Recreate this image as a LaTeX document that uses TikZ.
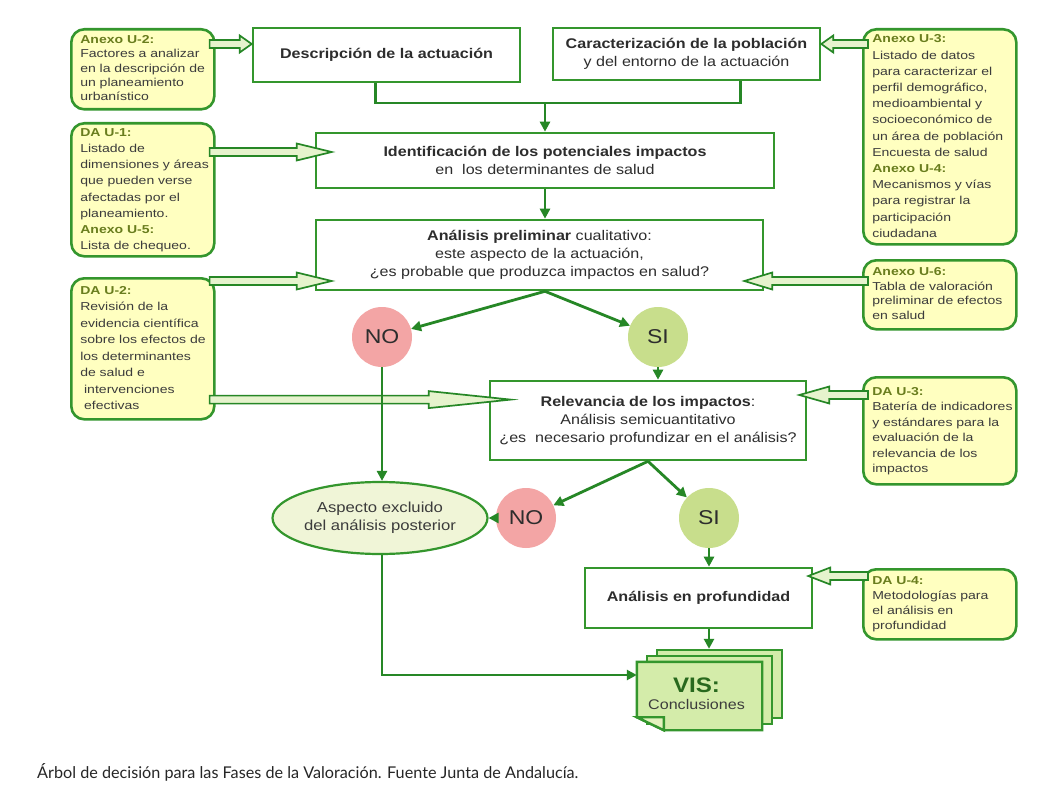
\documentclass[tikz,border=0pt]{standalone}
\usepackage{fontspec}
\setmainfont{Liberation Sans}
\newfontfamily\dgmfont[FakeStretch=1.15]{Liberation Sans}
\newfontfamily\notefont[FakeStretch=1.22]{Liberation Sans}
\newfontfamily\capfont{Lato}
\usetikzlibrary{arrows.meta,calc,shapes.geometric}
\definecolor{gline}{RGB}{38,135,38}
\definecolor{gbox}{RGB}{52,150,45}
\definecolor{yfill}{RGB}{255,255,192}
\definecolor{hfill}{RGB}{230,243,205}
\definecolor{lab}{RGB}{105,125,30}
\definecolor{tgray}{RGB}{45,45,45}
\definecolor{ngray}{RGB}{60,60,60}
\definecolor{nofill}{RGB}{243,165,165}
\definecolor{sifill}{RGB}{200,222,140}
\definecolor{aspfill}{RGB}{240,245,215}
\definecolor{visfill}{RGB}{212,236,170}
\definecolor{foldfill}{RGB}{228,242,190}
\definecolor{visgreen}{RGB}{40,105,30}
\newcommand\mf{\dgmfont\fontsize{14}{18}\selectfont}
\newcommand\nf[1]{\notefont\fontsize{11.5}{#1}\selectfont}
\newcommand\lb[1]{\textcolor{lab}{\textbf{#1}}}
\newcommand\tl[1]{\begin{tabular}{@{}l@{}}#1\end{tabular}}
\tikzset{
 mbox/.style={draw=gbox, fill=white, line width=2.6pt, align=center, font=\mf, text=tgray, inner sep=0pt},
 ybox/.style n args={3}{draw=gbox, fill=yfill, line width=2.6pt, rounded corners=13pt, text width=#1, minimum height=#2, inner xsep=9pt, inner ysep=0pt, align=left, font=\nf{#3}, text=ngray, anchor=north west},
 conn/.style={draw=gline, line width=2.8pt, -{Triangle[length=10pt,width=10pt]}},
 plain/.style={draw=gline, line width=2.8pt},
 hollow/.style={draw=gline, line width=1.7pt, fill=hfill, line join=miter, to path={let \p1=(\tikztostart), \p2=(\tikztotarget), \n1={\x2-#1*sign(\x2-\x1)} in (\x1,\y1+4pt) -- (\n1*1pt,\y1+4pt) -- (\n1*1pt,\y1+8.5pt) -- (\x2,\y1) -- (\n1*1pt,\y1-8.5pt) -- (\n1*1pt,\y1-4pt) -- (\x1,\y1-4pt) -- cycle}},
 circ/.style={circle, minimum size=60pt, inner sep=0pt, font=\dgmfont\fontsize{20}{24}\selectfont, text=tgray},
 vispage/.style={draw=gbox, fill=visfill, line width=2.4pt, line join=miter},
}
\begin{document}
\begin{tikzpicture}[x=1pt,y=-1pt]
\fill[white] (0,0) rectangle (1061,789);
\useasboundingbox (0,0) rectangle (1061,789);

% yellow note boxes
\node[ybox={125pt}{80pt}{14.3}] (u2) at (70,28) {\tl{\lb{Anexo U-2:}\\Factores a analizar\\en la descripción de\\un planeamiento\\urbanístico}};
\node[ybox={135pt}{215pt}{16.2}] (u3) at (862,28) {\tl{\lb{Anexo U-3:}\\Listado de datos\\para caracterizar el\\perfil demográfico,\\medioambiental y\\socioeconómico de\\un área de población\\Encuesta de salud\\\lb{Anexo U-4:}\\Mecanismos y vías\\para registrar la\\participación\\ciudadana}};
\node[ybox={125pt}{133pt}{16.2}] (da1) at (70,122) {\tl{\lb{DA U-1:}\\Listado de\\dimensiones y áreas\\que pueden verse\\afectadas por el\\planeamiento.\\\lb{Anexo U-5:}\\Lista de chequeo.}};
\node[ybox={135pt}{69pt}{14.5}] (u6) at (862,259) {\tl{\lb{Anexo U-6:}\\Tabla de valoración\\preliminar de efectos\\en salud}};
\node[ybox={125pt}{141pt}{16.5}] (da2) at (70,277) {\tl{\lb{DA U-2:}\\Revisión de la\\evidencia científica\\sobre los efectos de\\los determinantes\\de salud e\\\ intervenciones\\\ efectivas}};
\node[ybox={135pt}{107pt}{15.5}] (da3) at (862,376) {\tl{\lb{DA U-3:}\\Batería de indicadores\\y estándares para la\\evaluación de la\\relevancia de los\\impactos}};
\node[ybox={135pt}{70pt}{15}] (da4) at (862,568) {\tl{\lb{DA U-4:}\\Metodologías para\\el análisis en\\profundidad}};

% main boxes
\node[mbox, minimum width=267pt, minimum height=54pt] (desc) at (386.5,55) {\textbf{Descripción de la actuación}};
\node[mbox, minimum width=267pt, minimum height=52pt] (car) at (686.5,54) {\textbf{Caracterización de la población}\\y del entorno de la actuación};
\node[mbox, minimum width=458pt, minimum height=55pt] (ident) at (545,160.5) {\textbf{Identificación de los potenciales impactos}\\en\ \ los determinantes de salud};
\node[mbox, minimum width=447pt, minimum height=70pt] (prel) at (539.5,255) {\textbf{Análisis preliminar} cualitativo:\\este aspecto de la actuación,\\¿es probable que produzca impactos en salud?};
\node[mbox, minimum width=316pt, minimum height=79pt] (relev) at (648,420.5) {\textbf{Relevancia de los impactos}:\\Análisis semicuantitativo\\¿es\ \ necesario profundizar en el análisis?};
\node[mbox, minimum width=227pt, minimum height=60pt] (prof) at (698.5,598) {\textbf{Análisis en profundidad}};

% decisions
\node[circ, fill=nofill] (no1) at (382,337) {NO};
\node[circ, fill=sifill] (si1) at (658,337) {SI};
\node[circ, fill=nofill] (no2) at (526,518) {NO};
\node[circ, fill=sifill] (si2) at (709,518) {SI};
\node[ellipse, draw=gbox, fill=aspfill, line width=2.2pt, minimum width=186pt, minimum height=72pt, inner sep=0pt, align=center, font=\dgmfont\fontsize{14.5}{18}\selectfont, text=ngray] (asp) at (380,518) {Aspecto excluido\\del análisis posterior};

% VIS stack
\node[vispage, minimum width=125pt, minimum height=68pt] (vis3) at (719.5,684) {};
\node[vispage, minimum width=125pt, minimum height=68pt] (vis2) at (709.5,690) {};
\node[minimum width=125pt, minimum height=68pt, inner sep=0pt] (vis) at (699.5,696) {};
\draw[vispage] (vis.north west) -- (vis.north east) -- (vis.south east) -- ([shift={(27,0)}]vis.south west) -- ([shift={(0,-13)}]vis.south west) -- cycle;
\draw[vispage, fill=foldfill] ([shift={(0,-13)}]vis.south west) -- ([shift={(27,-13)}]vis.south west) -- ([shift={(27,0)}]vis.south west) -- cycle;
\node[align=center, inner sep=0pt, text=ngray] (vistxt) at ([shift={(-3,-2)}]vis.center) {\textcolor{visgreen}{\dgmfont\fontsize{21}{22}\selectfont\textbf{VIS:}}\\[5pt]{\mf Conclusiones}};

% hollow arrows
\path[hollow=12] ([shift={(-6,16)}]u2.north east) to (desc.west);
\path[hollow=12] ([shift={(6,16)}]u3.north west) to (car.east);
\path[hollow=35] ([shift={(-6,30)}]da1.north east) to ([shift={(17,0)}]ident.west);
\path[hollow=35] ([shift={(-6,4)}]da2.north east) to ([shift={(17,0)}]prel.west);
\path[hollow=28] ([shift={(6,22)}]u6.north west) to ([shift={(-20,0)}]prel.east);
\path[hollow=82] ([shift={(-6,-21)}]da2.south east) to ([shift={(22,0)}]relev.west);
\path[hollow=30] ([shift={(6,19)}]da3.north west) to ([shift={(-8,0)}]relev.east);
\path[hollow=22] ([shift={(6,8)}]da4.north west) to ([shift={(-5,0)}]prof.east);

% connectors
\coordinate (j1) at (545,103);
\draw[plain] ([shift={(-11,0)}]desc.south) |- (j1) -| ([shift={(54,0)}]car.south);
\draw[conn] (j1) -- (ident.north);
\draw[conn] (ident.south) -- (ident.south |- prel.north);
\coordinate (p1) at (ident.south |- prel.south);
\draw[conn] (p1) -- (no1);
\draw[conn] (p1) -- (si1);
\draw[conn] (no1.south) -- (no1.south |- asp.north);
\draw[conn] (si1.south) -- (si1.south |- relev.north);
\draw[conn] (relev.south) -- (no2);
\draw[conn] (relev.south) -- (si2);
\draw[conn] (no2.west) -- (asp.east);
\draw[conn] (si2.south) -- (si2.south |- prof.north);
\draw[conn] (si2.south |- prof.south) -- (si2.south |- vis3.north);
\draw[conn] (no1.south |- asp.south) |- ([shift={(0,-21)}]vis.west);

% caption
\node[anchor=base west, font=\capfont\fontsize{16.2}{19}\selectfont, text=black!85, inner sep=0pt] (cap) at (37,778) {Árbol de decisión para las Fases de la Valoración. Fuente Junta de Andalucía.};
\end{tikzpicture}
\end{document}
